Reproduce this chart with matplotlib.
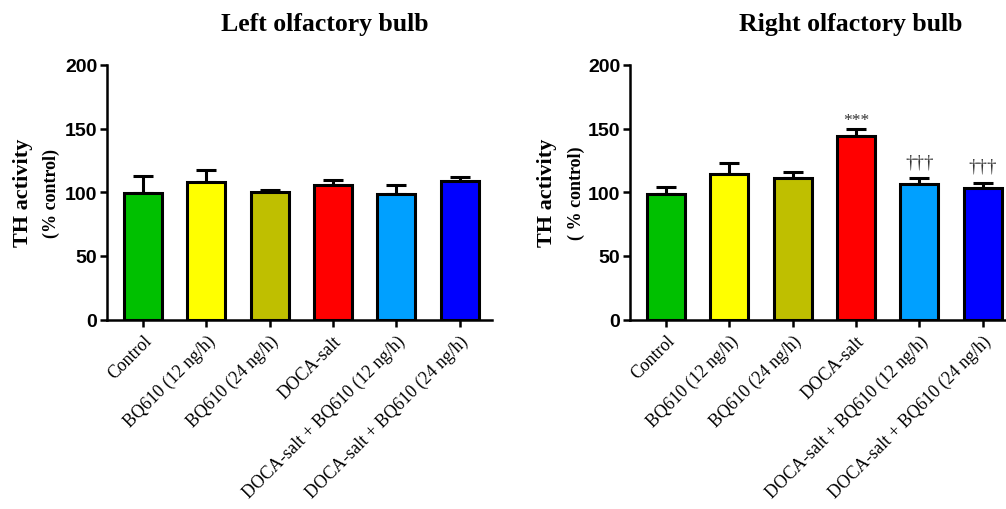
import numpy as np
import matplotlib
matplotlib.use('Agg')
import matplotlib.pyplot as plt

groups = ['Control', 'BQ610 (12 ng/h)', 'BQ610 (24 ng/h)', 'DOCA-salt',
          'DOCA-salt + BQ610 (12 ng/h)', 'DOCA-salt + BQ610 (24 ng/h)']
colors = ['#00C000', '#FFFF00', '#BFBF00', '#FF0000', '#00A0FF', '#0000FF']

left_mean = [99.3, 107.9, 100.1, 105.6, 98.5, 109.2]
left_sem = [13.6, 9.9, 2.0, 4.4, 7.5, 3.0]
right_mean = [99.0, 114.0, 111.0, 144.5, 106.5, 103.3]
right_sem = [5.0, 9.0, 5.0, 5.5, 4.5, 4.0]
right_marks = ['', '', '', '***', '†††', '†††']

SERIF = 'Liberation Serif'
SANS = 'Liberation Sans'

W, H = 1006, 510
fig = plt.figure(figsize=(W / 100, H / 100), dpi=100)


def panel(rect, mean, sem, xmax, ylab2, ylab_x):
    ax = fig.add_axes(rect)
    x = np.arange(len(groups))
    ax.bar(x, mean, width=0.6, color=colors, edgecolor='black', linewidth=2.2, zorder=2)
    ax.errorbar(x, mean, yerr=[np.zeros(len(sem)), sem], fmt='none', ecolor='black',
                elinewidth=2.2, capsize=7.5, capthick=2.2, zorder=1)
    ax.set_xlim(-0.57, xmax)
    ax.set_ylim(0, 200)
    ax.set_yticks([0, 50, 100, 150, 200])
    ax.set_xticks(x)
    ax.set_xticklabels(groups, rotation=45, ha='right', rotation_mode='anchor',
                       family=SERIF, fontsize=12.8)
    for lbl in ax.get_yticklabels():
        lbl.set_family(SANS)
        lbl.set_fontweight('bold')
        lbl.set_fontsize(14)
    for s in ['top', 'right']:
        ax.spines[s].set_visible(False)
    for s in ['left', 'bottom']:
        ax.spines[s].set_linewidth(1.8)
    ax.tick_params(axis='both', width=1.8, length=5, pad=2)
    ax.tick_params(axis='x', pad=4)
    # two-line y label, drawn as separate texts
    y_mid = rect[1] + rect[3] / 2
    fig.text(ylab_x[0], y_mid, 'TH activity', rotation=90, ha='center', va='center',
             family=SERIF, fontweight='bold', fontsize=16)
    fig.text(ylab_x[1], y_mid, ylab2, rotation=90, ha='center', va='center',
             family=SERIF, fontweight='bold', fontsize=13)
    return ax


ax_l = panel([107 / W, 1 - 320.5 / H, 385 / W, 254.5 / H], left_mean, left_sem, 5.51,
             '(% control)', (23 / W, 51 / W))
ax_r = panel([630 / W, 1 - 320.5 / H, 376 / W, 254.5 / H], right_mean, right_sem, 5.37,
             '( % control)', (547 / W, 576 / W))

# significance marks above the error bars
for i, m in enumerate(right_marks):
    if m:
        off = 7 if m == '***' else 13
        ax_r.text(i, right_mean[i] + right_sem[i] + off, m, ha='center', va='center',
                  family=SERIF, fontsize=12.5 if m == '***' else 13.5, color='#333333')

fig.text(325 / W, 1 - 25 / H, 'Left olfactory bulb', ha='center', va='center',
         family=SERIF, fontweight='bold', fontsize=18.5)
fig.text(851 / W, 1 - 25 / H, 'Right olfactory bulb', ha='center', va='center',
         family=SERIF, fontweight='bold', fontsize=18.5)

fig.savefig('out.png', dpi=100)
